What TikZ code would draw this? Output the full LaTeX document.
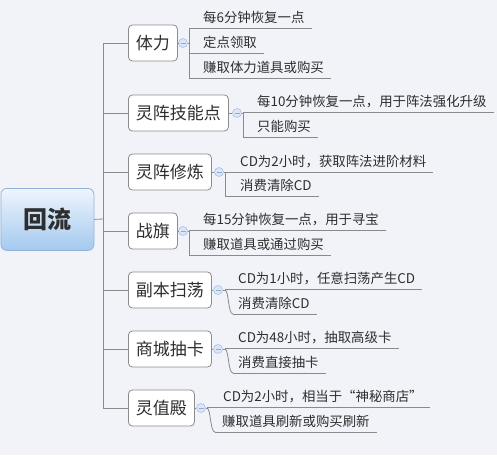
\documentclass[tikz,border=0pt]{standalone}
\usepackage{fontspec}
\setmainfont{Noto Sans CJK SC}
\usetikzlibrary{calc}
\definecolor{bgc}{HTML}{F2F3F9}
\definecolor{txt}{HTML}{2E2E2E}
\definecolor{lnc}{HTML}{8A8A8A}
\definecolor{bdc}{HTML}{8C8C8C}
\definecolor{rtop}{HTML}{EEF5FD}
\definecolor{rbot}{HTML}{A4C9EF}
\definecolor{rbd}{HTML}{90B2D8}
\definecolor{cfill}{HTML}{DCE6F5}
\definecolor{cdraw}{HTML}{A9C0E2}
\definecolor{cminus}{HTML}{8EAAD6}
\tikzset{
  conn/.style={draw=lnc,line width=0.8pt},
  branch/.style={draw=bdc,fill=white,rounded corners=4pt,line width=0.8pt,
    anchor=west,inner xsep=7.5pt,inner ysep=0pt,minimum height=36pt,
    text=txt,font=\fontsize{17}{20}\selectfont},
  leaf/.style={inner sep=0pt,text=txt,font=\fontsize{13.4}{15}\selectfont},
  fold/.style={circle,draw=cdraw,fill=cfill,line width=0.6pt,minimum size=9pt,inner sep=0pt,
    path picture={\draw[cminus,line width=0.7pt] ([xshift=-2.5pt]path picture bounding box.center) -- ([xshift=2.5pt]path picture bounding box.center);}},
}
\newcommand\lfnode[5]{%
  \node[leaf,anchor=base west] (#1) at (#4,#3-6) {#5};
  \draw[conn] (#2,#3) -- ($(#1.base east)+(7,6)$);
}
\begin{document}
\begin{tikzpicture}[x=1pt,y=-1pt]
\fill[bgc] (0,0) rectangle (497,455);
\useasboundingbox (0,0) rectangle (497,455);
% root
\node[draw=rbd,top color=rtop,bottom color=rbot,rounded corners=6pt,line width=0.8pt,
  minimum width=93pt,minimum height=62pt,anchor=north west,text=txt,
  font=\fontsize{24}{28}\selectfont\bfseries] (root) at (0.5,188) {回流};
\coordinate (trunk) at (103,219);
% branches
\node[branch] (b1) at (128,43) {体力};
\node[branch] (b2) at (128,113) {灵阵技能点};
\node[branch] (b3) at (128,172) {灵阵修炼};
\node[branch] (b4) at (128,231) {战旗};
\node[branch] (b5) at (128,290) {副本扫荡};
\node[branch] (b6) at (128,349) {商城抽卡};
\node[branch] (b7) at (128,408) {灵值殿};
\draw[conn] (root.east) -- (trunk);
\foreach \b in {b1,b2,b3,b4,b5,b6,b7}{\draw[conn] (trunk) |- (\b.west);}
% fold circles
\node[fold] (c1) at (183,43) {};
\node[fold] (c2) at (237,113) {};
\node[fold] (c3) at (219,172) {};
\node[fold] (c4) at (183,231) {};
\node[fold] (c5) at (218,290) {};
\node[fold] (c6) at (218,349) {};
\node[fold] (c7) at (201,408) {};
\foreach \i in {1,...,7}{\draw[conn] (b\i.east) -- (c\i.west);}
% group 1
\draw[conn] (c1.east) -- (189,43);
\draw[conn] (189,28) -- (189,78);
\lfnode{l11}{189}{28}{203}{每6分钟恢复一点}
\lfnode{l12}{189}{53}{203}{定点领取}
\lfnode{l13}{189}{78}{203}{赚取体力道具或购买}
% group 2
\draw[conn] (c2.east) -- (243,113);
\draw[conn] (243,112) -- (243,137);
\lfnode{l21}{243}{112}{257}{每10分钟恢复一点，用于阵法强化升级}
\lfnode{l22}{243}{137}{257}{只能购买}
% group 3
\draw[conn] (c3.east) -- (225,172);
\draw[conn] (225,172) -- (225,196);
\lfnode{l31}{225}{172}{240}{CD为2小时，获取阵法进阶材料}
\lfnode{l32}{225}{196}{240}{消费清除CD}
% group 4
\draw[conn] (c4.east) -- (189,231);
\draw[conn] (189,230) -- (189,255);
\lfnode{l41}{189}{230}{203}{每15分钟恢复一点，用于寻宝}
\lfnode{l42}{189}{255}{203}{赚取道具或通过购买}
% group 5
\draw[conn] (c5.east) -- (225,290);
\lfnode{l51}{225}{289}{238}{CD为1小时，任意扫荡产生CD}
\draw[conn] (225,290) .. controls (229,291) and (228,314) .. (233,314);
\lfnode{l52}{233}{314}{238}{消费清除CD}
% group 6
\draw[conn] (c6.east) -- (225,349);
\lfnode{l61}{225}{348}{238}{CD为48小时，抽取高级卡}
\draw[conn] (225,349) .. controls (229,350) and (228,373) .. (233,373);
\lfnode{l62}{233}{373}{238}{消费直接抽卡}
% group 7
\draw[conn] (c7.east) -- (207,408);
\lfnode{l71}{207}{407}{223}{CD为2小时，相当于“神秘商店”}
\draw[conn] (207,408) .. controls (211,409) and (210,432) .. (215,432);
\lfnode{l72}{215}{432}{222}{赚取道具刷新或购买刷新}
\end{tikzpicture}
\end{document}
